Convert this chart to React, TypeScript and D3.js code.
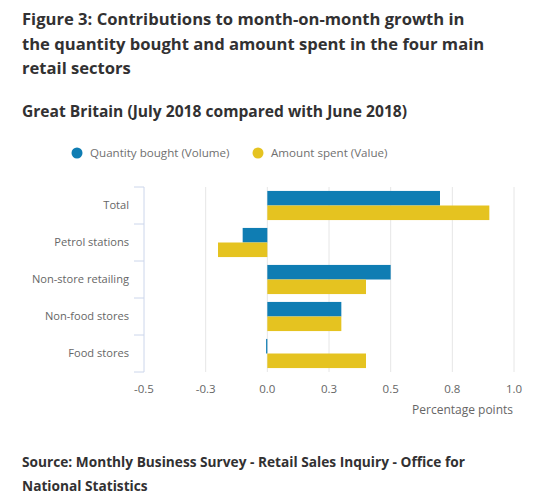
import React from "react";
import * as d3 from "d3";

const categories = ["Total", "Petrol stations", "Non-store retailing", "Non-food stores", "Food stores"];
const seriesNames = ["Quantity bought (Volume)", "Amount spent (Value)"];
const volumeValues = [0.7, -0.1, 0.5, 0.3, -0.005];
const valueValues = [0.9, -0.2, 0.4, 0.3, 0.4];
const tickValues = [-0.5, -0.25, 0, 0.25, 0.5, 0.75, 1.0];
const tickLabels = ["-0.5", "-0.3", "0.0", "0.3", "0.5", "0.8", "1.0"];
const titleLines = [
  "Figure 3: Contributions to month-on-month growth in",
  "the quantity bought and amount spent in the four main",
  "retail sectors",
];
const subtitle = "Great Britain (July 2018 compared with June 2018)";
const sourceLines = [
  "Source: Monthly Business Survey - Retail Sales Inquiry - Office for",
  "National Statistics",
];

const COLORS = ["#0f7db3", "#e5c320"];
const FONT = "'Open Sans', sans-serif";

export default function App() {
  const x = d3.scaleLinear().domain([-0.5, 1.0]).range([144, 514]);
  const y = d3.scaleBand<string>().domain(categories).range([187, 372]).padding(0);
  const sub = d3
    .scaleBand<number>()
    .domain([0, 1])
    .range([0, y.bandwidth()])
    .paddingInner(0)
    .paddingOuter(0.27);
  const series = [volumeValues, valueValues];

  return (
    <svg
      width={540}
      height={495}
      style={{ position: "absolute", left: 0, top: 0, display: "block", background: "#fff" }}
      fontFamily={FONT}
    >
      {titleLines.map((t, i) => (
        <text key={i} x={22} y={25 + i * 24.5} fontSize={16.6} fontWeight={700} fill="#323132">
          {t}
        </text>
      ))}
      <text x={22} y={117} fontSize={15.6} fontWeight={700} fill="#323132">
        {subtitle}
      </text>

      {/* legend */}
      <circle cx={77} cy={153} r={5.5} fill={COLORS[0]} />
      <text x={90} y={157} fontSize={11.6} fill="#707070">
        {seriesNames[0]}
      </text>
      <circle cx={258} cy={153} r={5.5} fill={COLORS[1]} />
      <text x={271} y={157} fontSize={11.6} fill="#707070">
        {seriesNames[1]}
      </text>

      {/* grid lines */}
      {tickValues.slice(1).map((v, i) => (
        <line key={i} x1={x(v)} x2={x(v)} y1={187} y2={372} stroke="#e6e6e6" strokeWidth={1} />
      ))}

      {/* y axis */}
      <line x1={144} x2={144} y1={187} y2={372} stroke="#ccd6eb" strokeWidth={1} />
      {categories.map((c, i) => (
        <line key={"t" + i} x1={134} x2={144} y1={y(c)!} y2={y(c)!} stroke="#ccd6eb" />
      ))}
      <line x1={134} x2={144} y1={372} y2={372} stroke="#ccd6eb" />
      {categories.map((c, i) => (
        <text
          key={"l" + i}
          x={129}
          y={y(c)! + y.bandwidth() / 2}
          dy="0.35em"
          textAnchor="end"
          fontSize={11.1}
          fill="#666666"
        >
          {c}
        </text>
      ))}

      {/* bars */}
      {series.map((vals, si) =>
        vals.map((v, i) => {
          const x0 = x(Math.min(0, v));
          const x1 = x(Math.max(0, v));
          return (
            <rect
              key={si + "-" + i}
              x={x0}
              y={y(categories[i])! + sub(si)!}
              width={Math.max(x1 - x0, 1)}
              height={sub.bandwidth()}
              fill={COLORS[si]}
            />
          );
        })
      )}

      {/* x tick labels */}
      {tickValues.map((v, i) => (
        <text key={"x" + i} x={x(v)} y={393} textAnchor="middle" fontSize={11.5} fill="#666666">
          {tickLabels[i]}
        </text>
      ))}
      <text x={513} y={414} textAnchor="end" fontSize={12} fill="#666666">
        Percentage points
      </text>

      {sourceLines.map((t, i) => (
        <text key={"s" + i} x={22} y={466.5 + i * 24.5} fontSize={13.7} fontWeight={700} fill="#323132">
          {t}
        </text>
      ))}
    </svg>
  );
}
